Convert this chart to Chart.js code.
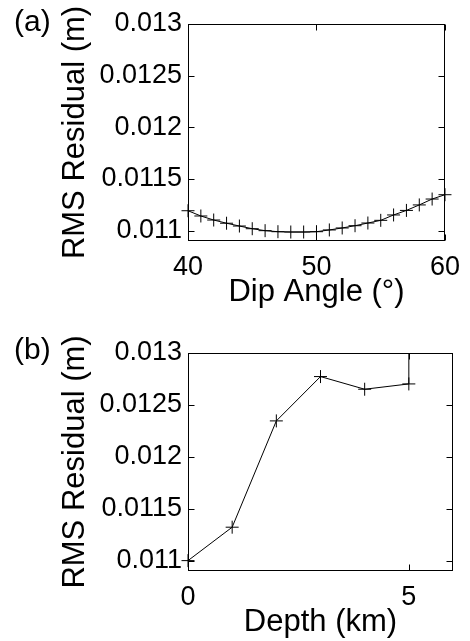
<!DOCTYPE html>
<html>
<head>
<meta charset="utf-8">
<script src="https://cdn.jsdelivr.net/npm/chart.js@4"></script>
<style>
body{margin:0;width:470px;height:641px;overflow:hidden;background:#fff;font-family:"Liberation Sans",Arial,sans-serif}
.panel{position:absolute;left:0;width:470px}
.lbl{position:absolute;font-size:30px;line-height:30px;color:#000}
</style>
</head>
<body>
<div class="panel" style="top:0;height:320px"><canvas id="c1"></canvas></div>
<div class="panel" style="top:320px;height:321px"><canvas id="c2"></canvas></div>
<div class="lbl" style="left:14px;top:6px">(a)</div>
<div class="lbl" style="left:14px;top:334px">(b)</div>
<script>

// panel (a): rms residual vs dip angle
const dipAngles=[40,41,42,43,44,45,46,47,48,49,50,51,52,53,54,55,56,57,58,59,60]
const dipRms=[0.011193,0.011142,0.011103,0.011072,0.011045,0.011019,0.011000,0.010990,0.010987,0.010987,0.010990,0.011007,0.011026,0.011048,0.011074,0.011100,0.011152,0.011196,0.011249,0.011306,0.011348]
const dipTicks=[40,50,60]

// panel (b): rms residual vs depth (last value runs off the top)
const depths=[0,1,2,3,4,5,5]
const depthRms=[0.011,0.011322,0.012346,0.012773,0.012651,0.012702,0.0135]
const depthTicks=[0,5]

const rmsTicks=[0.011,0.0115,0.012,0.0125,0.013]

const FONT="'Liberation Sans', Arial, sans-serif"

// box round the plot area with inward ticks on all sides
const boxPlugin={
id:"box",
beforeDatasetsDraw(chart){
const {ctx,chartArea:a,scales:{x,y}}=chart
const L=Math.round(a.left)+0.5,R=Math.round(a.right)-0.5
const T=Math.round(a.top)+0.5,B=Math.round(a.bottom)-0.5
ctx.save()
ctx.strokeStyle="#000"
ctx.lineWidth=1
ctx.strokeRect(L,T,R-L,B-T)
ctx.beginPath()
y.ticks.forEach(t=>{
const p=Math.round(y.getPixelForValue(t.value))+0.5
ctx.moveTo(L,p);ctx.lineTo(L+6,p)
ctx.moveTo(R,p);ctx.lineTo(R-6,p)
})
x.ticks.forEach(t=>{
const p=Math.round(x.getPixelForValue(t.value))+0.5
ctx.moveTo(p,B);ctx.lineTo(p,B-6)
ctx.moveTo(p,T);ctx.lineTo(p,T+6)
})
ctx.stroke()
ctx.restore()
}
}

function makeChart(id,xs,ys,xTicks,xMin,xMax,xTitle,pad,xHeight,radii,clip){
return new Chart(document.getElementById(id),{
type:"line",
data:{datasets:[{
data:xs.map((v,i)=>({x:v,y:ys[i]})),
borderColor:"#000",
borderWidth:1,
tension:0,
pointStyle:"cross",
pointRadius:radii,
pointBorderColor:"#000",
pointBorderWidth:1,
pointHoverRadius:radii,
fill:false,
clip:clip
}]},
options:{
responsive:true,
maintainAspectRatio:false,
animation:false,
events:[],
layout:{padding:pad},
plugins:{legend:{display:false},tooltip:{enabled:false}},
scales:{
x:{
type:"linear",
min:xMin,max:xMax,
grid:{display:false,drawTicks:false},
border:{display:false},
afterBuildTicks:s=>{s.ticks=xTicks.map(v=>({value:v}))},
afterFit:s=>{s.height=xHeight},
ticks:{color:"#000",padding:10,maxRotation:0,font:{family:FONT,size:27},callback:v=>String(v)},
title:{display:true,text:xTitle,color:"#000",padding:0,font:{family:FONT,size:31,lineHeight:1}}
},
y:{
type:"linear",
min:0.0109,max:0.013,
grid:{display:false,drawTicks:false},
border:{display:false},
afterBuildTicks:s=>{s.ticks=rmsTicks.map(v=>({value:v}))},
afterFit:s=>{s.width=188-pad.left},
ticks:{color:"#000",padding:6,font:{family:FONT,size:27},callback:v=>String(v)},
title:{display:true,text:"RMS Residual (m)",color:"#000",padding:0,font:{family:FONT,size:31,lineHeight:1}}
}
}
},
plugins:[boxPlugin]
})
}

makeChart("c1",dipAngles,dipRms,dipTicks,40,60,"Dip Angle (\u00b0)",
{left:60,right:17,top:24,bottom:12},67,dipAngles.map(()=>6.5),false)

makeChart("c2",depths,depthRms,depthTicks,0,6,"Depth (km)",
{left:60,right:17,top:33,bottom:3},67,depths.map((v,i)=>i<6?6.5:0),{left:10,top:0,right:10,bottom:10})

</script>
</body>
</html>
